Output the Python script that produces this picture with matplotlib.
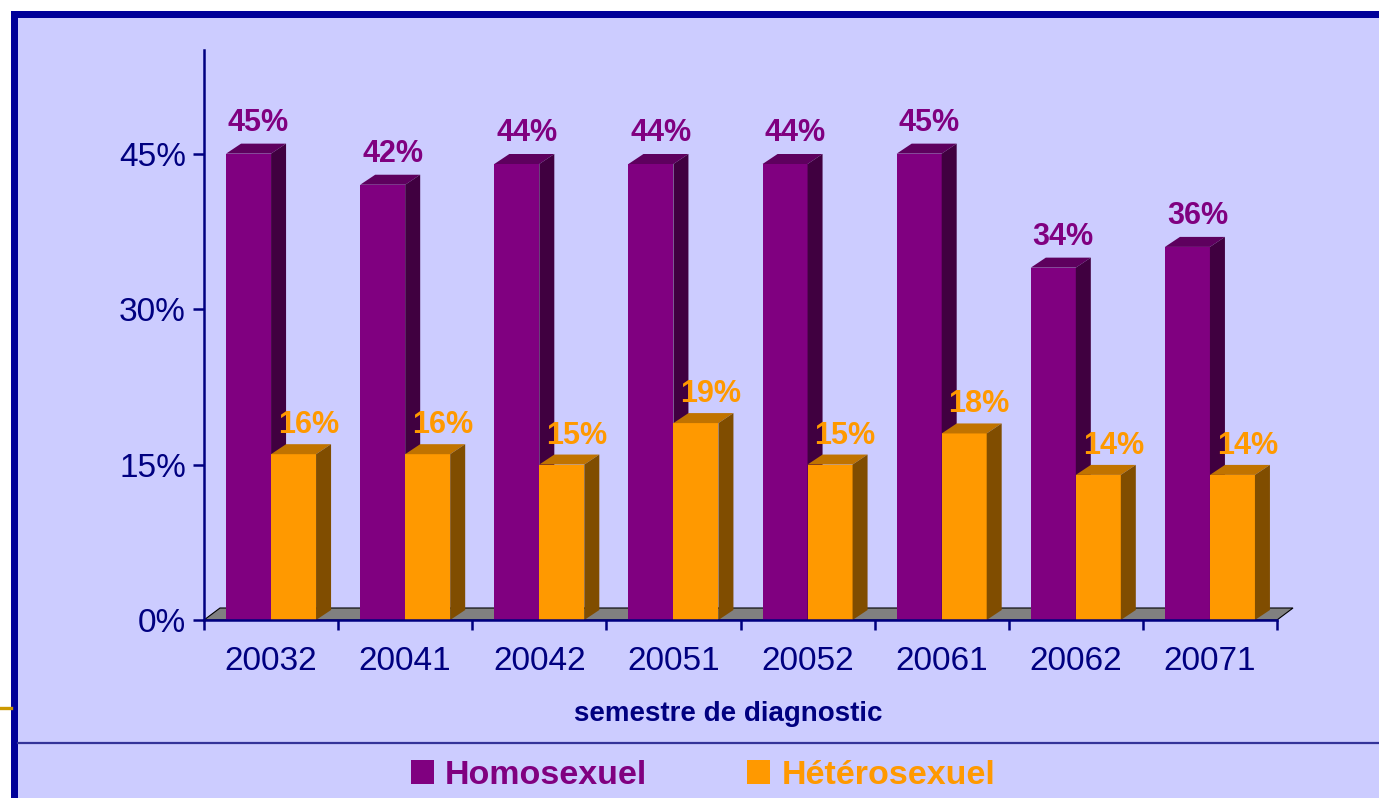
import matplotlib
matplotlib.use("Agg")
import matplotlib.pyplot as plt
from matplotlib.patches import Rectangle, Polygon, Patch
from matplotlib.lines import Line2D
import numpy as np

plt.rcParams['font.family'] = ['Liberation Sans', 'DejaVu Sans']

# ---------------- data ----------------
categories = ["20032", "20041", "20042", "20051", "20052", "20061", "20062", "20071"]
homosexuel = [45, 42, 44, 44, 44, 45, 34, 36]
heterosexuel = [16, 16, 15, 19, 15, 18, 14, 14]
series_names = ["Homosexuel", "Hétérosexuel"]
y_ticks = [0, 15, 30, 45]
x_title = "semestre de diagnostic"

# ---------------- styles ----------------
W, H = 1379, 798
NAVY = "#000080"
FRAME = "#000099"
BG = "#CCCCFF"
PURPLE = ("#800080", "#5E005E", "#400040")   # front, top, side
ORANGE = ("#FF9900", "#C07300", "#804D00")

fig = plt.figure(figsize=(W / 100, H / 100), dpi=100)
fig.patch.set_facecolor("white")

def fx(px):
    return px / W

def fy(py):
    return 1 - py / H

# frame and background
fig.add_artist(Rectangle((fx(11), fy(H + 20)), 1.1, fy(11) - fy(H + 20),
                         transform=fig.transFigure, facecolor=FRAME, edgecolor="none", zorder=-3))
fig.add_artist(Rectangle((fx(18), fy(H + 20)), 1.1, fy(18) - fy(H + 20),
                         transform=fig.transFigure, facecolor=BG, edgecolor="none", zorder=-2))
fig.add_artist(Line2D([fx(18), 1.0], [fy(743), fy(743)], transform=fig.transFigure,
                      color="#333399", lw=1.6, zorder=-1))
fig.add_artist(Line2D([0, fx(11)], [fy(708), fy(708)], transform=fig.transFigure,
                      color="#CC9900", lw=2.4, zorder=-1))

# axes
ax_l, ax_r, ax_t, ax_b = 204, 1277, 50, 620
ax = fig.add_axes([fx(ax_l), fy(ax_b), (ax_r - ax_l) / W, (ax_b - ax_t) / H])
ax.patch.set_alpha(0)
n = len(categories)
ax.set_xlim(-0.5, n - 0.5)
ymax = 55
ax.set_ylim(0, ymax)

# pixel -> data helpers
px_x = (n) / (ax_r - ax_l)
px_y = ymax / (ax_b - ax_t)
dx, dy = 15 * px_x, 10 * px_y
fdx, fdy = 16 * px_x, 12 * px_y

x = np.arange(n)
w = 45 * px_x

# floor
floor = Polygon([(-0.5, 0), (n - 0.5, 0), (n - 0.5 + fdx, fdy), (-0.5 + fdx, fdy)],
                closed=True, facecolor="#808080", edgecolor="black", lw=0.8,
                zorder=1, clip_on=False)
ax.add_patch(floor)

def draw_bars(xc, vals, cols, z):
    ax.bar(xc, vals, width=w, color=cols[0], edgecolor="none", zorder=z)
    for xi, v in zip(xc, vals):
        x0, x1 = xi - w / 2, xi + w / 2
        ax.add_patch(Polygon([(x0, v), (x1, v), (x1 + dx, v + dy), (x0 + dx, v + dy)],
                             closed=True, facecolor=cols[1], edgecolor="none", zorder=z))
        ax.add_patch(Polygon([(x1, 0), (x1 + dx, dy), (x1 + dx, v + dy), (x1, v)],
                             closed=True, facecolor=cols[2], edgecolor="none", zorder=z))

xp = x - w / 2
xo = x + w / 2
draw_bars(xp, homosexuel, PURPLE, 3)
draw_bars(xo, heterosexuel, ORANGE, 4)

for xi, v in zip(xp, homosexuel):
    ax.annotate(f"{v}%", (xi, v), xytext=(10, 16), textcoords="offset pixels",
                ha="center", va="bottom", fontsize=22, fontweight="bold",
                color=PURPLE[0], zorder=10, annotation_clip=False)
for xi, v in zip(xo, heterosexuel):
    ax.annotate(f"{v}%", (xi, v), xytext=(15, 14), textcoords="offset pixels",
                ha="center", va="bottom", fontsize=22, fontweight="bold",
                color=ORANGE[0], zorder=10, annotation_clip=False)

# spines & ticks
for s in ["top", "right"]:
    ax.spines[s].set_visible(False)
for s in ["left", "bottom"]:
    ax.spines[s].set_color(NAVY)
    ax.spines[s].set_linewidth(1.8)
    ax.spines[s].set_zorder(5)

ax.set_yticks(y_ticks)
ax.set_yticklabels([f"{t}%" for t in y_ticks])
ax.tick_params(axis="y", direction="out", length=8, width=1.8, color=NAVY,
               labelcolor=NAVY, labelsize=24, pad=5)

ax.set_xticks(np.arange(-0.5, n, 1.0))
ax.set_xticklabels([])
ax.set_xticks(x, minor=True)
ax.set_xticklabels(categories, minor=True)
ax.tick_params(axis="x", which="major", direction="out", length=7.5, width=1.8, color=NAVY)
ax.tick_params(axis="x", which="minor", length=0, labelcolor=NAVY, labelsize=24, pad=18.5)

ax.set_xlabel(x_title, fontsize=20, fontweight="bold", color=NAVY)
ax.xaxis.label.set_va("center")
ax.xaxis.set_label_coords((728 - ax_l) / (ax_r - ax_l), -(714 - ax_b) / (ax_b - ax_t))

# legend
handles = [Patch(facecolor=PURPLE[0], edgecolor="none"),
           Patch(facecolor=ORANGE[0], edgecolor="none")]
fs = 24.5 * 100 / 72
leg = fig.legend(handles, series_names, loc="center",
                 bbox_to_anchor=(fx(703), fy(775)), ncol=2, frameon=False,
                 prop={"size": 24.5, "weight": "bold"},
                 labelcolor=[PURPLE[0], ORANGE[0]],
                 handlelength=23 / fs, handleheight=24 / fs,
                 handletextpad=11 / fs, columnspacing=100 / fs,
                 borderpad=0, borderaxespad=0)

fig.savefig("out.png", dpi=100, facecolor=fig.get_facecolor())
